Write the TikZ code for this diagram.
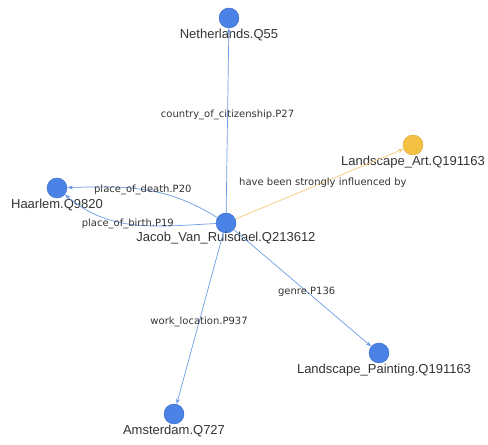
\documentclass[tikz,border=0pt]{standalone}
\usepackage{fontspec}
\setmainfont{Liberation Sans}
\newfontfamily\edgefont{DejaVu Sans}
\usetikzlibrary{arrows.meta}
\definecolor{entityblue}{HTML}{4A82E6}
\definecolor{entityrim}{HTML}{3466C4}
\definecolor{conceptyellow}{HTML}{F4C145}
\definecolor{conceptrim}{HTML}{D6A232}
\definecolor{relblue}{HTML}{6C9BE6}
\definecolor{relorange}{HTML}{F5C878}
\definecolor{labelgray}{HTML}{333333}

\begin{document}
\begin{tikzpicture}
    [x=1bp, y=1bp, entity/.style={circle, draw=entityrim, fill=entityblue,
      thin, minimum size=20bp, inner sep=0pt, label distance=4bp},
    concept/.style={entity, draw=conceptrim, fill=conceptyellow},
    relation/.style={draw=relblue, line width=0.7bp,
      -{Stealth[length=5.5bp, width=4bp]}},
    influence/.style={relation, draw=relorange},
    rellabel/.style={font=\edgefont\fontsize{10bp}{12bp}\selectfont,
      text=labelgray, inner sep=1bp},
    every label/.style={font=\fontsize{13bp}{15bp}\selectfont,
      text=labelgray, inner sep=1bp}]
    \useasboundingbox (0,0) rectangle (488,445);
    \node (jacob) [entity, label={[label distance=-2bp]below:Jacob\_Van\_Ruisdael.Q213612}] at (226,222) {};
    \node (netherlands) [entity, label=below:Netherlands.Q55] at (229,427) {};
    \node (landscape_art) [concept, label=below:Landscape\_Art.Q191163] at (413,300) {};
    \node (haarlem) [entity, label=below:Haarlem.Q9820] at (57,257) {};
    \node (landscape_painting) [entity, label={[xshift=5bp]below:Landscape\_Painting.Q191163}] at (379,92) {};
    \node (amsterdam) [entity, label=below:Amsterdam.Q727] at (174,31) {};
    \draw [relation] (jacob) -- node [rellabel, pos=0.53] {country\_of\_citizenship.P27} (netherlands);
    \draw [influence] (jacob) -- node [rellabel, pos=0.52] {have been strongly influenced by} (landscape_art);
    \draw [relation] (jacob) to [out=148, in=2] node [rellabel, pos=0.52] {place\_of\_death.P20} (haarlem);
    \draw [relation] (jacob) to [out=183, in=-40] node [rellabel, pos=0.55] {place\_of\_birth.P19} (haarlem);
    \draw [relation] (jacob) -- node [rellabel, pos=0.52] {work\_location.P937} (amsterdam);
    \draw [relation] (jacob) -- node [rellabel, pos=0.53] {genre.P136} (landscape_painting);
  \end{tikzpicture}
\end{document}
